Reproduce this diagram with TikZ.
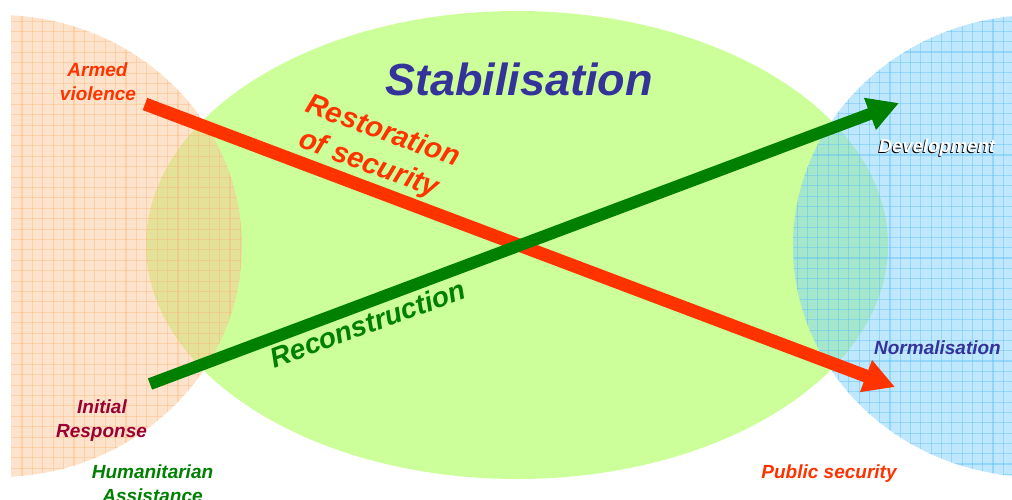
\documentclass[tikz,border=0pt]{standalone}
\usepackage{fontspec}
\setmainfont{Liberation Sans}
\usetikzlibrary{arrows.meta}
\definecolor{greenfill}{RGB}{204,255,153}
\definecolor{orangebase}{RGB}{253,199,153}
\definecolor{orangegrid}{RGB}{250,185,125}
\definecolor{bluebase}{RGB}{127,209,255}
\definecolor{bluegrid}{RGB}{95,192,245}
\definecolor{redtxt}{RGB}{255,51,0}
\definecolor{navytxt}{RGB}{51,51,153}
\definecolor{greentxt}{RGB}{0,128,0}
\definecolor{crimsontxt}{RGB}{153,0,51}
\tikzset{
  lbl/.style={anchor=base, inner sep=0pt, font=\bfseries\itshape\fontsize{19}{23}\selectfont},
  biglbl/.style={anchor=base, inner sep=0pt, font=\bfseries\itshape\fontsize{29}{35}\selectfont},
  redarrow/.style={draw=redtxt, line width=13pt, -{Triangle[length=31pt,width=32pt]}},
  greenarrow/.style={draw=greentxt, line width=12pt, -{Triangle[length=31pt,width=32pt]}},
  gridline/.style={line width=1.1pt, opacity=0.45}
}
\begin{document}
\begin{tikzpicture}[x=1pt,y=-1pt]
\useasboundingbox (0,0) rectangle (1012,499);
% green ellipse
\fill[greenfill] (517,245) ellipse [x radius=371, y radius=234];
% orange ellipse
\begin{scope}
  \clip (11,0) rectangle (1012,499);
  \clip (-2,246) ellipse [x radius=244, y radius=231];
  \fill[orangebase, opacity=0.5] (0,0) rectangle (300,499);
  \foreach \gx in {22,32.4,...,260} \draw[orangegrid, gridline] (\gx,0) -- (\gx,499);
  \foreach \gy in {0.3,10.7,...,499} \draw[orangegrid, gridline] (0,\gy) -- (300,\gy);
\end{scope}
% blue ellipse
\begin{scope}
  \clip (1037,246) ellipse [x radius=244, y radius=231];
  \fill[bluebase, opacity=0.5] (780,0) rectangle (1012,499);
  \foreach \gx in {787,797.3,...,1012} \draw[bluegrid, gridline] (\gx,0) -- (\gx,499);
  \foreach \gy in {0.5,10.8,...,499} \draw[bluegrid, gridline] (780,\gy) -- (1012,\gy);
\end{scope}
% arrows
\coordinate (rs) at (145,104);
\coordinate (re) at (895,387);
\coordinate (gs) at (150,384);
\coordinate (ge) at (899,103);
\draw[redarrow] (rs) -- (re);
\draw[greenarrow] (gs) -- (ge);
% texts
\node[anchor=base, inner sep=0pt, font=\bfseries\itshape\fontsize{45}{50}\selectfont, text=navytxt] (stab) at (519,95) {Stabilisation};
\node[lbl, text=redtxt] (armed) at (97.5,76) {Armed};
\node[lbl, text=redtxt] (viol) at (98,100) {violence};
\node[lbl, text=crimsontxt] (init) at (102,413) {Initial};
\node[lbl, text=crimsontxt] (resp) at (101.5,437) {Response};
\node[lbl, text=greentxt] (hum) at (152.5,478) {Humanitarian};
\node[lbl, text=greentxt] (assist) at (152.5,502) {Assistance};
\node[lbl, text=black, font=\bfseries\itshape\fontsize{18.5}{22}\selectfont] (devsh) at (936,153) {Development};
\node[lbl, text=white, font=\bfseries\itshape\fontsize{18.5}{22}\selectfont] (dev) at (937,152) {Development};
\node[lbl, text=navytxt] (norm) at (937.5,354) {Normalisation};
\node[lbl, text=redtxt] (pubsec) at (829,478) {Public security};
\node[biglbl, text=redtxt, rotate=-20] (resto) at (380,139.5) {Restoration};
\node[biglbl, text=redtxt, rotate=-20] (ofsec) at (366,172) {of security};
\node[biglbl, text=greentxt, rotate=20, font=\bfseries\itshape\fontsize{28}{34}\selectfont] (recon) at (371,333) {Reconstruction};
\end{tikzpicture}
\end{document}
